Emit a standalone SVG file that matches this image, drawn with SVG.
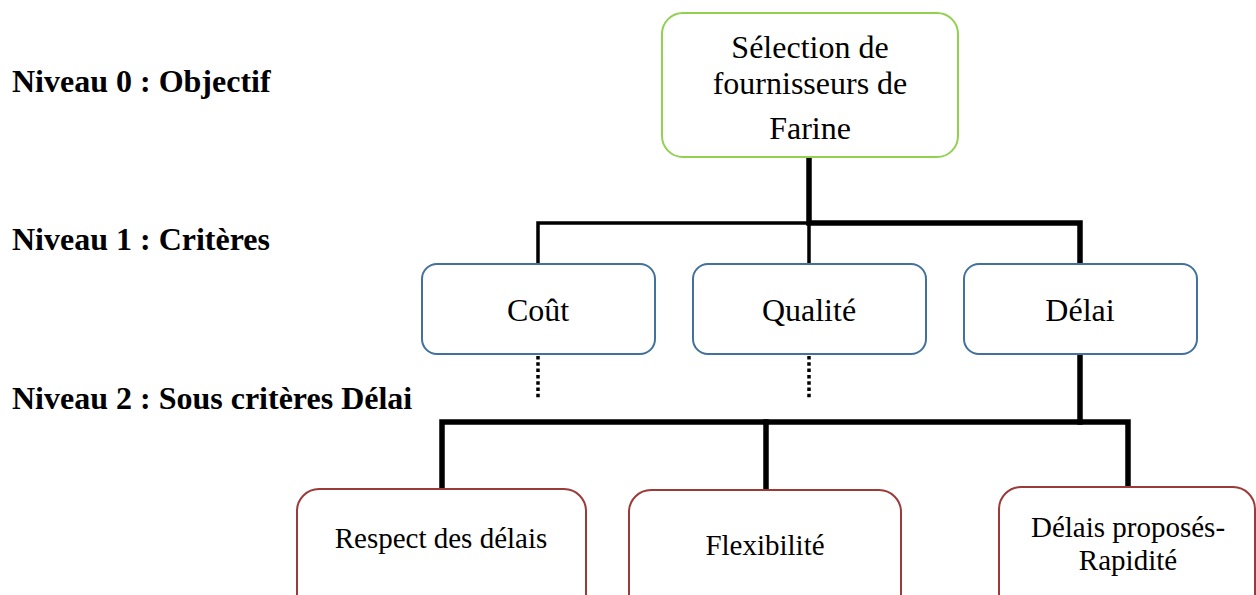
<svg xmlns="http://www.w3.org/2000/svg" width="1256" height="595" viewBox="0 0 1256 595">
  <style>
    .lbl { font-family: "Liberation Serif", "Times New Roman", serif; fill: #000; }
    .level { font-size: 32px; font-weight: bold; }
    .t1 { font-size: 32px; text-anchor: middle; }
    .t2 { font-size: 29px; text-anchor: middle; }
    .goal { fill: #fff; stroke: #92D050; stroke-width: 2; }
    .crit { fill: #fff; stroke: #41719C; stroke-width: 2; }
    .sub { fill: #fff; stroke: #9B3B39; stroke-width: 2; }
    .thin { fill: none; stroke: #000; stroke-width: 3.5; stroke-linejoin: miter; }
    .thick { fill: none; stroke: #000; stroke-width: 5.5; stroke-linejoin: miter; stroke-linecap: square; }
    .dots { fill: none; stroke: #000; stroke-width: 3.5; stroke-dasharray: 3.5 2.8; }
  </style>

  <!-- level captions -->
  <g id="levels">
    <text class="lbl level" x="12" y="92">Niveau 0 : Objectif</text>
    <text class="lbl level" x="12" y="250">Niveau 1 : Critères</text>
    <text class="lbl level" x="12" y="409">Niveau 2 : Sous critères Délai</text>
  </g>

  <!-- connectors -->
  <g id="connectors">
    <path class="thin" d="M538 264 V223 H809 V264"/>
    <path class="thick" d="M809 160 V223 H1080 V262"/>
    <path class="thick" d="M1080 356 V422 H1128 V486"/>
    <path class="thick" d="M442 487 V422 H1080"/>
    <path class="thick" d="M766 422 V488"/>
    <path class="dots" d="M538 356 V400"/>
    <path class="dots" d="M809 356 V400"/>
  </g>

  <!-- level 0 -->
  <g id="node-objectif">
    <rect class="goal" x="662" y="13" width="296" height="144" rx="21"/>
    <text class="lbl t1" x="810" y="58">Sélection de</text>
    <text class="lbl t1" x="810" y="94">fournisseurs de</text>
    <text class="lbl t1" x="810" y="139">Farine</text>
  </g>

  <!-- level 1 -->
  <g id="node-cout">
    <rect class="crit" x="422" y="264" width="233" height="90" rx="15"/>
    <text class="lbl t1" x="538" y="321">Coût</text>
  </g>
  <g id="node-qualite">
    <rect class="crit" x="693" y="264" width="233" height="90" rx="15"/>
    <text class="lbl t1" x="809" y="321">Qualité</text>
  </g>
  <g id="node-delai">
    <rect class="crit" x="964" y="264" width="233" height="90" rx="15"/>
    <text class="lbl t1" x="1080" y="321">Délai</text>
  </g>

  <!-- level 2 -->
  <g id="node-respect">
    <rect class="sub" x="297" y="489" width="289" height="140" rx="22"/>
    <text class="lbl t2" x="441" y="548">Respect des délais</text>
  </g>
  <g id="node-flexibilite">
    <rect class="sub" x="629" y="490" width="272" height="140" rx="22"/>
    <text class="lbl t2" x="765" y="555">Flexibilité</text>
  </g>
  <g id="node-rapidite">
    <rect class="sub" x="999" y="487" width="256" height="140" rx="22"/>
    <text class="lbl t2" x="1128" y="537">Délais proposés-</text>
    <text class="lbl t2" x="1128" y="570">Rapidité</text>
  </g>
</svg>
